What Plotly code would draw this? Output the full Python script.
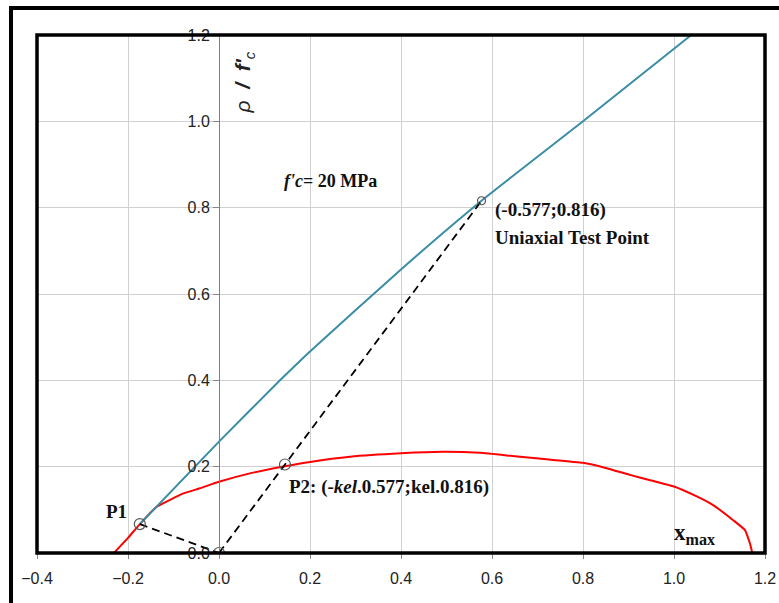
import plotly.graph_objects as go

# ---- data ----
blue_x = [-0.174, 0.0, 0.134, 0.2, 0.4, 0.577, 0.8, 1.038]
blue_y = [0.067, 0.258, 0.40, 0.467, 0.657, 0.816, 1.0, 1.2]

red_x = [-0.231, -0.2, -0.174, -0.137, -0.078, -0.042, 0.0, 0.07, 0.145, 0.2, 0.288, 0.40, 0.493,
         0.574, 0.65, 0.72, 0.80, 0.85, 0.903, 0.95, 1.0, 1.05, 1.086, 1.13, 1.156, 1.167, 1.173, 1.2]
red_y = [0.0, 0.035, 0.067, 0.107, 0.138, 0.150, 0.165, 0.185, 0.201, 0.211, 0.223, 0.231, 0.2345,
         0.232, 0.224, 0.217, 0.209, 0.197, 0.181, 0.168, 0.154, 0.131, 0.111, 0.076, 0.053, 0.022, 0.0, 0.0]

p1 = (-0.174, 0.067)
origin = (0.0, 0.0)
p2 = (0.145, 0.205)
test_pt = (0.577, 0.816)

dash1_x = [p1[0], origin[0]]
dash1_y = [p1[1], origin[1]]
dash2_x = [origin[0], test_pt[0]]
dash2_y = [origin[1], test_pt[1]]

mark_x = [p1[0], origin[0], p2[0]]
mark_y = [p1[1], origin[1], p2[1]]

x_ticks = [-0.4, -0.2, 0.0, 0.2, 0.4, 0.6, 0.8, 1.0, 1.2]
y_ticks = [0.0, 0.2, 0.4, 0.6, 0.8, 1.0, 1.2]

serif = "Liberation Serif, Times New Roman, serif"
sans = "Liberation Sans, Arial, sans-serif"

fig = go.Figure()
fig.add_trace(go.Scatter(x=red_x, y=red_y, mode="lines",
                         line=dict(color="#FF0000", width=2, shape="spline", smoothing=0.4),
                         hoverinfo="skip"))
fig.add_trace(go.Scatter(x=blue_x, y=blue_y, mode="lines",
                         line=dict(color="#3A8DA5", width=2, shape="spline", smoothing=0.5),
                         hoverinfo="skip"))
fig.add_trace(go.Scatter(x=dash1_x, y=dash1_y, mode="lines",
                         line=dict(color="black", width=1.8, dash="8px,5px")))
fig.add_trace(go.Scatter(x=dash2_x, y=dash2_y, mode="lines",
                         line=dict(color="black", width=1.8, dash="8px,5px")))
fig.add_trace(go.Scatter(x=mark_x, y=mark_y, mode="markers",
                         marker=dict(symbol="circle-open", size=11,
                                     line=dict(color="#555555", width=1.2), color="#555555")))
fig.add_trace(go.Scatter(x=[test_pt[0]], y=[test_pt[1]], mode="markers",
                         marker=dict(symbol="circle-open", size=8,
                                     line=dict(color="#555555", width=1.2), color="#555555")))

ann = [
    dict(x=0.138, y=0.862, text="<b><i>f'c</i>= 20 MPa</b>", xanchor="left",
         font=dict(family=serif, size=18, color="#111")),
    dict(x=0.602, y=0.795, text="<b>(-0.577;0.816)</b>", xanchor="left",
         font=dict(family=serif, size=19, color="#111")),
    dict(x=0.602, y=0.732, text="<b>Uniaxial Test Point</b>", xanchor="left",
         font=dict(family=serif, size=19, color="#111")),
    dict(x=-0.253, y=0.095, text="<b>P1</b>", xanchor="left",
         font=dict(family=serif, size=19, color="#111")),
    dict(x=0.149, y=0.153, text="<b>P2: (-<i>kel</i>.0.577;kel.0.816)</b>", xanchor="left",
         font=dict(family=serif, size=19, color="#111")),
    dict(x=0.996, y=0.044, text="<b>x<sub>max</sub></b>", xanchor="left",
         font=dict(family=serif, size=23, color="#111")),
    dict(x=0.057, y=1.09, text="<i>ρ</i>  <b><i>/  f'</i></b><sub><i>c</i></sub>", textangle=-90,
         font=dict(family=sans, size=21, color="#222")),
    dict(x=1.10, y=-0.075, text="<i>ξ</i>  <b><i>/  f'</i></b><sub><i>c</i></sub>",
         font=dict(family=sans, size=21, color="#222")),
]
for a in ann:
    a.setdefault("xref", "x")
    a.setdefault("yref", "y")
    a["showarrow"] = False
    fig.add_annotation(**a)

shapes = [
    dict(type="rect", xref="paper", yref="paper", x0=0, x1=1, y0=0, y1=1,
         line=dict(color="black", width=3.5), layer="above"),
    dict(type="rect", xref="paper", yref="paper", x0=-0.0357, x1=1.05, y0=-0.15, y1=1.052,
         line=dict(color="black", width=4), layer="above"),
]

fig.update_layout(
    width=779, height=603,
    margin=dict(l=37, r=14, t=35, b=50, autoexpand=False),
    paper_bgcolor="white", plot_bgcolor="white",
    showlegend=False,
    shapes=shapes,
    xaxis=dict(range=[-0.4, 1.2], tickvals=x_ticks, tickformat=".1f",
               showgrid=True, gridcolor="#D0D0D0", gridwidth=1,
               zeroline=False, showline=False, automargin=False,
               ticks="outside", ticklen=5, tickcolor="#888",
               ticklabelstandoff=6,
               tickfont=dict(family=sans, size=16, color="#222")),
    yaxis=dict(range=[0, 1.2], tickvals=y_ticks, tickformat=".1f",
               anchor="free", position=0.25, automargin=False,
               showgrid=True, gridcolor="#D0D0D0", gridwidth=1,
               zeroline=False, showline=True, linecolor="#808080", linewidth=1,
               ticks="outside", ticklen=6, tickcolor="#888",
               tickfont=dict(family=sans, size=16, color="#222")),
)

fig.write_html("out.html", config={"displayModeBar": False},
               post_script="document.body.style.margin='0px';document.body.style.overflow='hidden';")
